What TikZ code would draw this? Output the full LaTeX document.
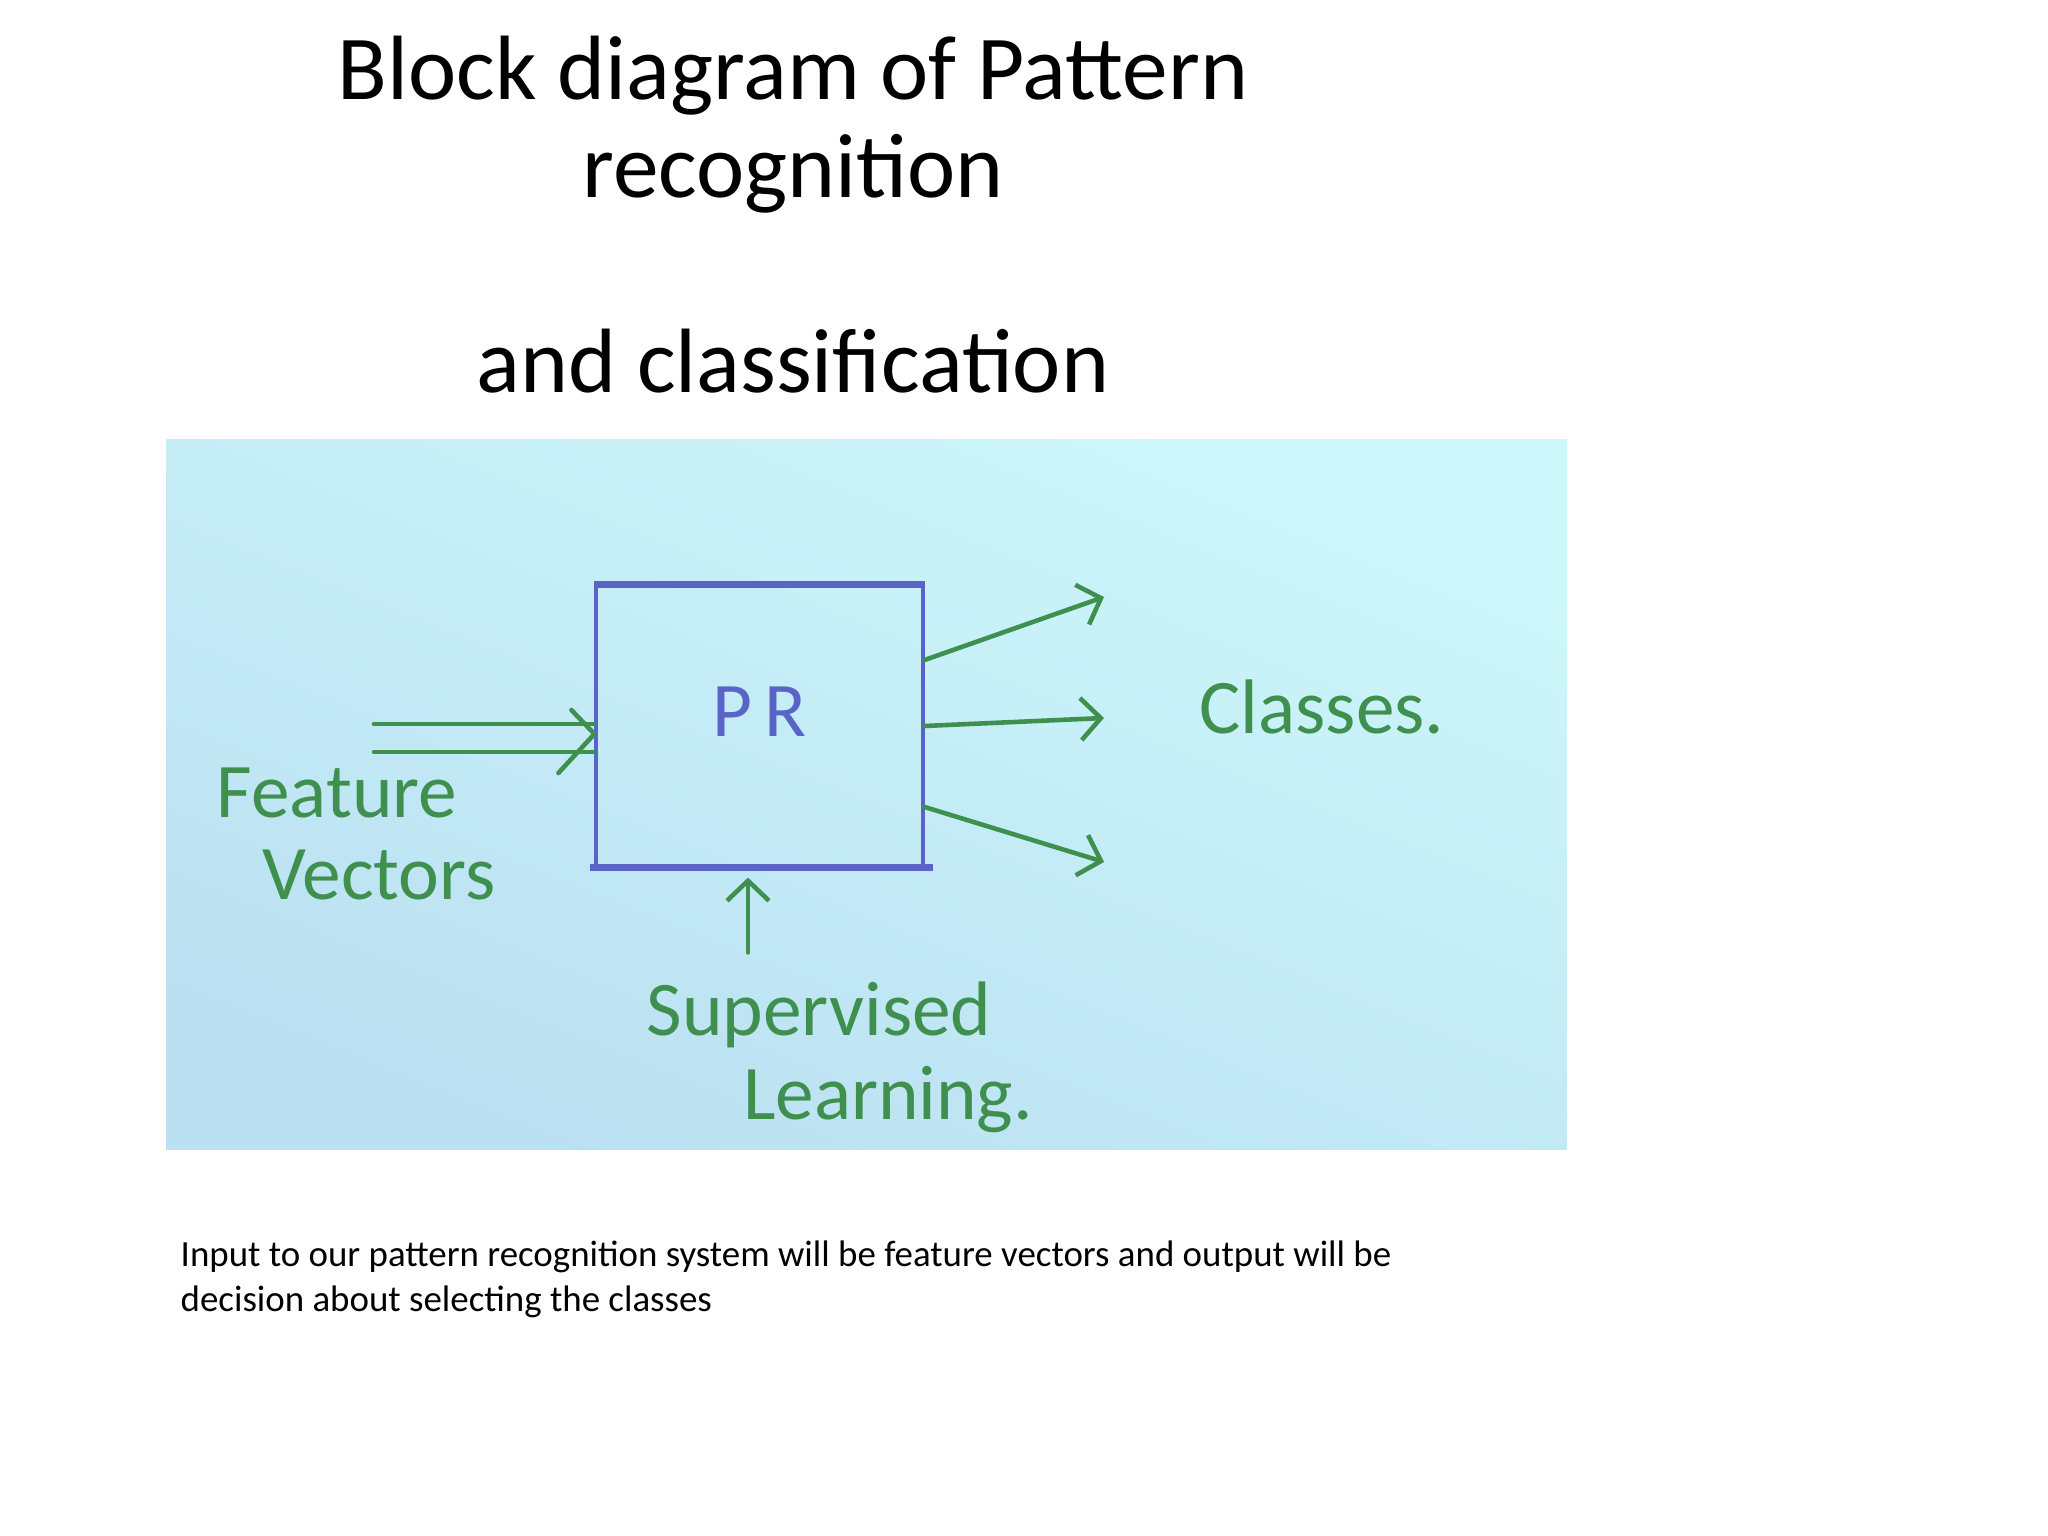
\documentclass[tikz,border=0pt]{standalone}
\usepackage{fontspec}
\setmainfont{Carlito}
\usepackage{xcolor}
\usepackage{tikz}
\usetikzlibrary{positioning,arrows.meta,calc}
\definecolor{cink}{HTML}{3F8F4F}
\definecolor{cbox}{HTML}{5A64C8}
\definecolor{cbgtop}{HTML}{CCF7FA}
\definecolor{cbgbot}{HTML}{B4D6EE}

\begin{document}
\begin{tikzpicture}[
  hand/.style={font=\fontsize{22}{24}\selectfont, text=cink, inner sep=0pt},
  ink/.style={draw=cink, line width=1.3pt, line cap=round, line join=round},
  pen/.style={ink, -{Straight Barb[length=2mm,width=4.2mm,line width=1.3pt]}},
  prbox/.style={draw=cbox, line width=0.9pt, minimum width=3.27cm, minimum height=2.80cm, inner sep=0pt},
  edg/.style={draw=cbox, line width=1.8pt},
  ttl/.style={font=\fontsize{26}{27.8}\selectfont, align=center},
  capt/.style={font=\fontsize{10.5}{12.8}\selectfont, align=left, anchor=north west, inner sep=0pt},
]
\useasboundingbox (0,0) rectangle (20.48,-15.36);
% ---------- title ----------
\node[ttl] (title) at (7.93,-2.15) {Block diagram of Pattern\\recognition\\[27.8pt]and classification};
% ---------- board ----------
\shade[top color=cbgtop, bottom color=cbgbot!70!cbgtop, shading angle=-22] (1.66,-4.40) rectangle (15.67,-11.49);
\node[prbox] (pr) at (7.595,-7.26) {};
\draw[edg] (pr.north west) -- (pr.north east);
\draw[edg] ([xshift=-0.4mm]pr.south west) -- ([xshift=0.8mm]pr.south east);
\node[hand, text=cbox] (prlbl) at ([yshift=1.4mm]pr.center) {P\,R};
% ---------- input ----------
\coordinate (fvin) at (3.74,-7.38);
\coordinate (fvtip) at ([yshift=-0.8mm]pr.west);
\draw[ink] ([yshift=1.4mm]fvin) -- ([yshift=1.4mm]fvin -| pr.west);
\draw[ink] ([yshift=-1.4mm]fvin) -- ([yshift=-1.4mm]fvin -| pr.west);
\draw[ink] ($(fvtip)+(-0.23,0.24)$) -- (fvtip) -- ($(fvtip)+(-0.36,-0.39)$);
\node[hand] (feature) at (3.37,-7.93) {Feature};
\node[hand] (vectors) at (3.79,-8.75) {Vectors};
% ---------- outputs ----------
\coordinate (cl1) at (11.04,-5.97);
\coordinate (cl2) at (11.04,-7.18);
\coordinate (cl3) at (11.04,-8.62);
\draw[pen] ([yshift=6.6mm]pr.east) -- (cl1);
\draw[pen] (pr.east) -- (cl2);
\draw[pen] ([yshift=-8.1mm]pr.east) -- (cl3);
\node[hand] (classes) at (13.22,-7.07) {Classes.};
% ---------- supervision ----------
\coordinate (slin) at (7.48,-9.53);
\draw[pen, line width=1pt, shorten >=1mm] (slin) -- (slin |- pr.south);
\node[hand] (superv) at (8.19,-10.15) {Supervised};
\node[hand] (learn) at (8.88,-11.00) {Learning.};
% ---------- caption ----------
\node[capt] (note) at (1.80,-12.40) {Input to our pattern recognition system will be feature vectors and output will be\\decision about selecting the classes};
\end{tikzpicture}
\end{document}
